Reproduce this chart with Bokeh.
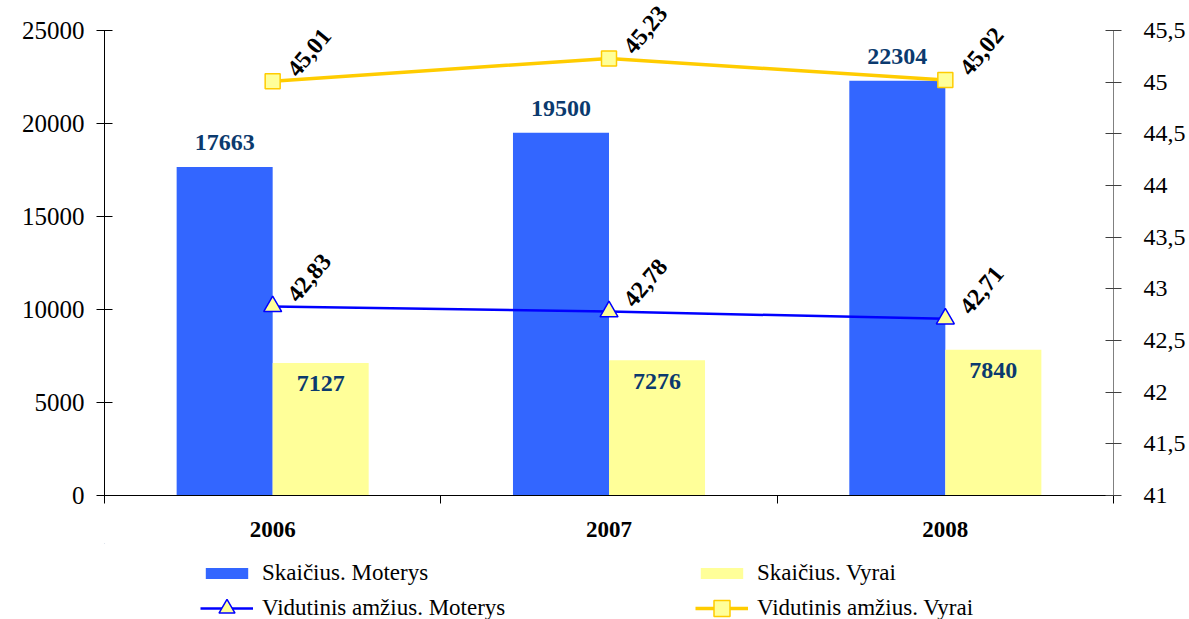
import math
from bokeh.plotting import figure
from bokeh.layouts import column
from bokeh.models import (Range1d, LinearAxis, FixedTicker, CustomJSTickFormatter,
                          Legend, LegendItem, ColumnDataSource, LabelSet)
from bokeh.transform import dodge
from bokeh.embed import file_html
from bokeh.resources import INLINE

years = ["2006", "2007", "2008"]
count_women = [17663, 19500, 22304]
count_men = [7127, 7276, 7840]
age_women = [42.83, 42.78, 42.71]
age_men = [45.01, 45.23, 45.02]
left_ticks = [0, 5000, 10000, 15000, 20000, 25000]
right_ticks = [41, 41.5, 42, 42.5, 43, 43.5, 44, 44.5, 45, 45.5]
legend_labels = ["Skaičius. Moterys", "Skaičius. Vyrai",
                 "Vidutinis amžius. Moterys", "Vidutinis amžius. Vyrai"]

FONT = "Liberation Serif"
BLUE_BAR = "#3366FF"
YELLOW_BAR = "#FFFF99"
NAVY = "#0B3A6E"
BLUE_LINE = "#0000FF"
GOLD_LINE = "#FFCC00"

src = ColumnDataSource(dict(
    x=[i + 0.5 for i in range(len(years))],
    w=count_women, m=count_men,
    w_lbl=[str(v) for v in count_women],
    m_lbl=[str(v) for v in count_men],
    aw=age_women, am=age_men,
    aw_lbl=[f"{v:.2f}".replace(".", ",") for v in age_women],
    am_lbl=[f"{v:.2f}".replace(".", ",") for v in age_men],
))

# frame reaches the top of the canvas (so rotated labels are not clipped);
# axis bounds keep the visible axes between the tick extremes.
TOP_PAD = 30      # px between frame top and highest tick
AXIS_PX = 465     # px from lowest to highest tick
L0, L1 = left_ticks[0], left_ticks[-1]
R0, R1 = right_ticks[0], right_ticks[-1]
left_end = L0 + (L1 - L0) * (AXIS_PX + TOP_PAD) / AXIS_PX
right_end = R0 + (R1 - R0) * (AXIS_PX + TOP_PAD) / AXIS_PX

p = figure(width=1189, height=543, output_backend="svg", toolbar_location=None,
           x_range=Range1d(0, len(years)), y_range=Range1d(L0, left_end),
           min_border_left=104, min_border_right=76, min_border_top=0, min_border_bottom=48)
p.outline_line_color = None
p.xgrid.visible = False
p.ygrid.visible = False
p.extra_y_ranges = {"age": Range1d(R0, right_end)}

BW = 0.2855
bw = p.vbar(x=dodge("x", -BW / 2), top="w", width=BW, bottom=0, source=src,
            fill_color=BLUE_BAR, line_color=None)
bm = p.vbar(x=dodge("x", BW / 2), top="m", width=BW, bottom=0, source=src,
            fill_color=YELLOW_BAR, line_color=None)

# bar labels
p.add_layout(LabelSet(x=dodge("x", -BW / 2), y="w", text="w_lbl", source=src,
                      text_align="center", text_baseline="bottom", y_offset=17,
                      text_font=FONT, text_font_style="bold", text_font_size="24px",
                      text_color=NAVY))
p.add_layout(LabelSet(x=dodge("x", BW / 2), y="m", text="m_lbl", source=src,
                      text_align="center", text_baseline="middle", y_offset=-21,
                      text_font=FONT, text_font_style="bold", text_font_size="24px",
                      text_color=NAVY))

# age lines
p.line(x="x", y="aw", source=src, y_range_name="age", line_color=BLUE_LINE, line_width=2.5)
p.scatter(x="x", y="aw", source=src, y_range_name="age", marker="triangle", size=18,
          fill_color=YELLOW_BAR, line_color=BLUE_LINE, line_width=1.5)
p.line(x="x", y="am", source=src, y_range_name="age", line_color=GOLD_LINE, line_width=3.5)
p.scatter(x="x", y="am", source=src, y_range_name="age", marker="square", size=15,
          fill_color=YELLOW_BAR, line_color=GOLD_LINE, line_width=1.5)

ang = math.radians(50)
for col, lcol in (("aw", "aw_lbl"), ("am", "am_lbl")):
    p.add_layout(LabelSet(x="x", y=col, text=lcol, source=src, y_range_name="age",
                          angle=ang, text_align="left", text_baseline="bottom",
                          x_offset=25, y_offset=3,
                          text_font=FONT, text_font_style="bold", text_font_size="24px",
                          text_color="black"))

# axes
p.yaxis.ticker = FixedTicker(ticks=left_ticks)
p.yaxis.bounds = (L0, L1)
p.yaxis.axis_line_color = "black"
p.yaxis.major_tick_line_color = "black"
p.yaxis.major_tick_in = 8
p.yaxis.major_tick_out = 8
p.yaxis.minor_tick_line_color = None
p.yaxis.major_label_standoff = 12
p.yaxis.major_label_text_font = FONT
p.yaxis.major_label_text_font_size = "25px"
p.yaxis.major_label_text_color = "black"

ra = LinearAxis(y_range_name="age", ticker=FixedTicker(ticks=right_ticks), bounds=(R0, R1),
                formatter=CustomJSTickFormatter(code="return String(tick).replace('.', ',');"))
ra.axis_line_color = "#808080"
ra.major_tick_line_color = "#404040"
ra.major_tick_in = 8
ra.major_tick_out = 8
ra.minor_tick_line_color = None
ra.major_label_standoff = 22
ra.major_label_text_font = FONT
ra.major_label_text_font_size = "24px"
ra.major_label_text_color = "black"
p.add_layout(ra, "right")

p.xaxis.ticker = FixedTicker(ticks=[i + 0.5 for i in range(len(years))],
                             minor_ticks=list(range(len(years) + 1)))
p.xaxis.formatter = CustomJSTickFormatter(args=dict(labels=years),
                                          code="return labels[Math.round(tick - 0.5)];")
p.xaxis.axis_line_color = "black"
p.xaxis.major_tick_out = 0
p.xaxis.major_tick_in = 0
p.xaxis.minor_tick_out = 8
p.xaxis.minor_tick_in = 0
p.xaxis.minor_tick_line_color = "black"
p.xaxis.major_label_standoff = 18
p.xaxis.major_label_text_font = FONT
p.xaxis.major_label_text_font_style = "bold"
p.xaxis.major_label_text_font_size = "23px"
p.xaxis.major_label_text_color = "black"

# legend figure: same data drawn far out of view, used only for the legend keys
LH = 76
q = figure(width=1189, height=LH, output_backend="svg", toolbar_location=None,
           x_range=Range1d(100, 101), y_range=Range1d(-200, -100),
           x_axis_type=None, y_axis_type=None, min_border=0)
q.outline_line_color = None
q.xgrid.visible = False
q.ygrid.visible = False
kw = q.vbar(x="x", top="w", bottom=0, width=BW, source=src, fill_color=BLUE_BAR, line_color=None)
km = q.vbar(x="x", top="m", bottom=0, width=BW, source=src, fill_color=YELLOW_BAR, line_color=None)
klw = q.line(x="x", y="aw", source=src, line_color=BLUE_LINE, line_width=2.5)
ksw = q.scatter(x="x", y="aw", source=src, marker="triangle", size=18,
                fill_color=YELLOW_BAR, line_color=BLUE_LINE, line_width=1.5)
klm = q.line(x="x", y="am", source=src, line_color=GOLD_LINE, line_width=3.5)
ksm = q.scatter(x="x", y="am", source=src, marker="square", size=15,
                fill_color=YELLOW_BAR, line_color=GOLD_LINE, line_width=1.5)

def style_legend(lg, gh):
    lg.orientation = "horizontal"
    lg.glyph_width = 53
    lg.glyph_height = gh
    lg.label_standoff = 9
    lg.label_width = 423
    lg.spacing = 10
    lg.padding = 0
    lg.margin = 0
    lg.border_line_color = None
    lg.background_fill_alpha = 0
    lg.label_text_font = FONT
    lg.label_text_font_size = "23px"
    lg.label_text_color = "black"

leg1 = Legend(items=[LegendItem(label=legend_labels[0], renderers=[kw]),
                     LegendItem(label=legend_labels[1], renderers=[km])],
              location=(96, LH - 43))
style_legend(leg1, 14)
leg2 = Legend(items=[LegendItem(label=legend_labels[2], renderers=[klw, ksw]),
                     LegendItem(label=legend_labels[3], renderers=[klm, ksm])],
              location=(96, LH - 85))
style_legend(leg2, 40)
q.add_layout(leg1, "center")
q.add_layout(leg2, "center")

open("out.html", "w").write(file_html(column(p, q), INLINE))
